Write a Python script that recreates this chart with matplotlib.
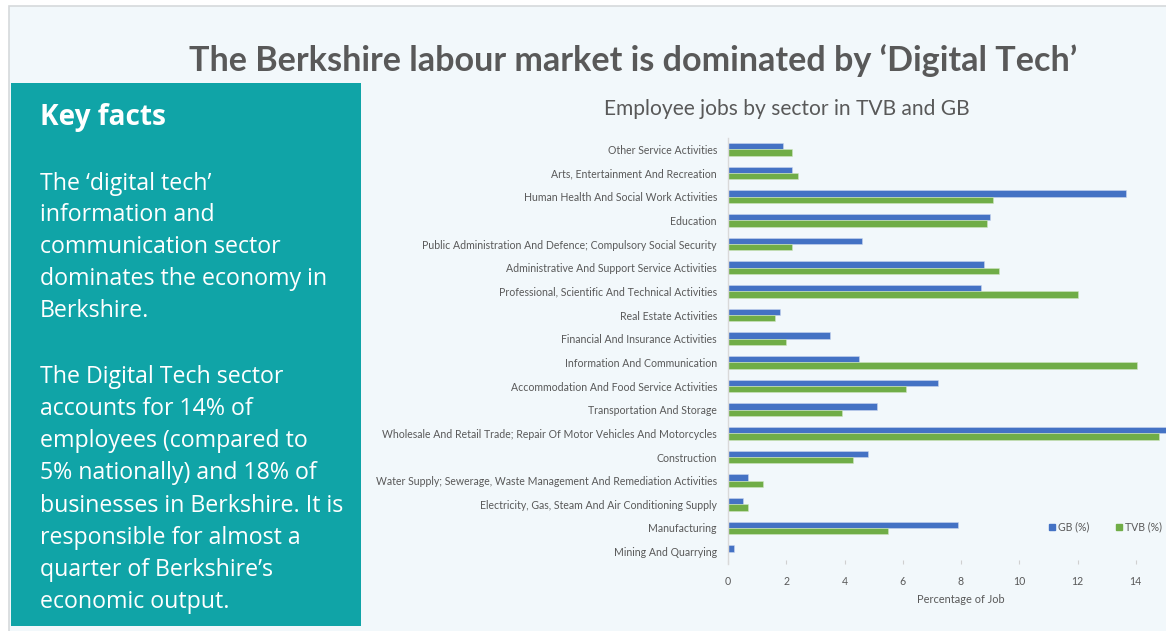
import matplotlib
matplotlib.use("Agg")
import matplotlib.pyplot as plt
from matplotlib.patches import Rectangle
from matplotlib.lines import Line2D

# ---- data -------------------------------------------------------------
sectors = [
    "Mining And Quarrying",
    "Manufacturing",
    "Electricity, Gas, Steam And Air Conditioning Supply",
    "Water Supply; Sewerage, Waste Management And Remediation Activities",
    "Construction",
    "Wholesale And Retail Trade; Repair Of Motor Vehicles And Motorcycles",
    "Transportation And Storage",
    "Accommodation And Food Service Activities",
    "Information And Communication",
    "Financial And Insurance Activities",
    "Real Estate Activities",
    "Professional, Scientific And Technical Activities",
    "Administrative And Support Service Activities",
    "Public Administration And Defence; Compulsory Social Security",
    "Education",
    "Human Health And Social Work Activities",
    "Arts, Entertainment And Recreation",
    "Other Service Activities",
]
gb_pct = [0.2, 7.9, 0.5, 0.7, 4.8, 15.1, 5.1, 7.2, 4.5, 3.5, 1.8, 8.7, 8.8, 4.6, 9.0, 13.65, 2.2, 1.9]
tvb_pct = [0.0, 5.5, 0.7, 1.2, 4.3, 14.8, 3.9, 6.1, 14.05, 2.0, 1.6, 12.0, 9.3, 2.2, 8.9, 9.1, 2.4, 2.2]
x_ticks = [0, 2, 4, 6, 8, 10, 12, 14]
series_names = ["GB (%)", "TVB (%)"]

page_title = "The Berkshire labour market is dominated by \u2018Digital Tech\u2019"
chart_title = "Employee jobs by sector in TVB and GB"
x_label = "Percentage of Job"
facts_heading = "Key facts"
facts_lines = [
    "The \u2018digital tech\u2019",
    "information and",
    "communication sector",
    "dominates the economy in",
    "Berkshire.",
    "",
    "The Digital Tech sector",
    "accounts for 14% of",
    "employees (compared to",
    "5% nationally) and 18% of",
    "businesses in Berkshire. It is",
    "responsible for almost a",
    "quarter of Berkshire\u2019s",
    "economic output.",
]

# ---- styling ----------------------------------------------------------
W, H, DPI = 1166, 631, 100
BG = "#f2f8fb"
TEAL = "#10a4a7"
BLUE = "#4472c4"
GREEN = "#70ad47"
GREY_TXT = "#595959"
CHART_FONT = "Lato"
BOX_FONT = "Open Sans"

fig = plt.figure(figsize=(W / DPI, H / DPI), dpi=DPI)
fig.patch.set_facecolor("white")


def px(x, y):
    """Pixel position (from top-left) to figure fraction."""
    return x / W, 1 - y / H


def fit(text, target_w):
    """Scale a text's font size so it spans target_w pixels."""
    r = fig.canvas.get_renderer()
    w = text.get_window_extent(r).width
    text.set_fontsize(text.get_fontsize() * target_w / w)


# page background and border
fig.patches.append(Rectangle(px(9, H + 5), (W + 5) / W, (H - 1) / H,
                             transform=fig.transFigure, facecolor=BG,
                             edgecolor="#d6d9db", linewidth=1.2, zorder=-2))
# key facts panel
x0, y0 = px(11, 626)
fig.patches.append(Rectangle((x0, y0), 350 / W, 543 / H, transform=fig.transFigure,
                             facecolor=TEAL, edgecolor="none", zorder=-1))

t = fig.text(*px(633, 61), page_title, ha="center", va="center",
             fontsize=22, fontweight="bold", color=GREY_TXT, family=CHART_FONT)
fit(t, 887)

t = fig.text(*px(40, 117), facts_heading, ha="left", va="center",
             fontsize=18, fontweight="bold", color="white", family=BOX_FONT)
fit(t, 126)

line_y = [184, 215, 247, 279, 311, None, 377, 409, 441, 473, 506, 538, 570, 602]
body = []
for line, yy in zip(facts_lines, line_y):
    if not line:
        continue
    body.append(fig.text(*px(40, yy), line, ha="left", va="center", fontsize=16,
                         color="white", family=BOX_FONT))
# common body size taken from one line's width
ref = [tt for tt in body if tt.get_text() == "dominates the economy in"][0]
fit(ref, 287)
for tt in body:
    tt.set_fontsize(ref.get_fontsize())

t = fig.text(*px(787, 109), chart_title, ha="center", va="center",
             fontsize=14, color=GREY_TXT, family=CHART_FONT)
fit(t, 368)

# ---- bar chart ------------------------------------------------------
ax_l, ax_r, ax_t, ax_b = 728, 1194, 137.5, 563.5
ax = fig.add_axes([ax_l / W, 1 - ax_b / H, (ax_r - ax_l) / W, (ax_b - ax_t) / H])
ax.set_facecolor("none")
ax.set_zorder(2)

pos = list(range(len(sectors)))
bh = 0.27
ax.barh([p + bh / 2 for p in pos], gb_pct, height=bh, color=BLUE,
        edgecolor="#c9d6ee", linewidth=0.4, label=series_names[0])
ax.barh([p - bh / 2 for p in pos], tvb_pct, height=bh, color=GREEN,
        edgecolor="#cfe5c2", linewidth=0.4, label=series_names[1])

ax.set_xlim(0, 16)
ax.set_ylim(-0.5, len(sectors) - 0.5)
ax.set_yticks(pos)
ax.set_yticklabels(sectors, family=CHART_FONT, color=GREY_TXT, fontsize=7.5)
ax.set_xticks(x_ticks)
ax.set_xticklabels([str(v) for v in x_ticks], family=CHART_FONT, color=GREY_TXT, fontsize=8)
ax.tick_params(axis="y", length=0, pad=8)
ax.tick_params(axis="x", length=3, direction="in", color="#d0d0d0", pad=9)

for s in ("top", "right", "bottom"):
    ax.spines[s].set_visible(False)
ax.spines["left"].set_color("#d9d9d9")
ax.spines["left"].set_linewidth(1.0)

# size the category labels to the available margin
r = fig.canvas.get_renderer()
longest = max(ax.get_yticklabels(), key=lambda l: l.get_window_extent(r).width)
scale = 339 / longest.get_window_extent(r).width
lab_size = 7.5 * scale
for lab in ax.get_yticklabels():
    lab.set_fontsize(lab_size)
for lab in ax.get_xticklabels():
    lab.set_fontsize(lab_size)

ax.set_xlabel(x_label, family=CHART_FONT, color=GREY_TXT, fontsize=lab_size * 1.05, labelpad=5)

handles = [Line2D([], [], marker="s", linestyle="none", markersize=5, color=BLUE),
           Line2D([], [], marker="s", linestyle="none", markersize=5, color=GREEN)]
ax.legend(handles, series_names, loc="center left", bbox_to_anchor=(0.665, 0.086),
          ncol=2, frameon=False, handletextpad=0.2, columnspacing=2.4,
          handlelength=0.8, prop={"family": CHART_FONT, "size": lab_size},
          labelcolor=GREY_TXT)

fig.savefig("out.png", dpi=DPI, facecolor=fig.get_facecolor())
